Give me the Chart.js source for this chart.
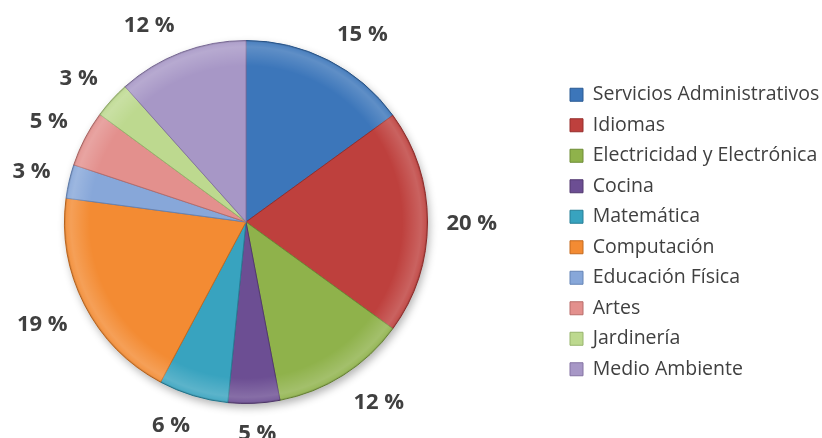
<!DOCTYPE html>
<html>
<head>
<meta charset="utf-8">
<script src="https://cdn.jsdelivr.net/npm/chart.js@4.4.1/dist/chart.umd.min.js"></script>
<style>
  html, body { margin: 0; padding: 0; background: #ffffff; }
  #wrap { width: 822px; height: 438px; position: relative; }
</style>
</head>
<body>
<div id="wrap"><canvas id="chart" width="822" height="438"></canvas></div>
<script>
// ---- data ----
const categories = [
  'Servicios Administrativos',
  'Idiomas',
  'Electricidad y Electrónica',
  'Cocina',
  'Matemática',
  'Computación',
  'Educación Física',
  'Artes',
  'Jardinería',
  'Medio Ambiente'
];
const values = [15, 20, 12, 4.6, 6.2, 19.3, 3.0, 5.0, 3.3, 11.6];
const sliceColors = [
  '#3C76BA', '#BE403D', '#8FB24B', '#6C4E93', '#38A3BF',
  '#F38B33', '#87A7D9', '#E3908D', '#BDD98F', '#A797C6'
];
const sliceBorders = [
  '#2A5A93', '#962E2C', '#6E8C36', '#52386F', '#277F97',
  '#C46A1F', '#6584B6', '#B86C6A', '#97B46C', '#8473A3'
];

// ---- layout constants ----
const LEGEND_WIDTH = 330;      // legend box width (chart area = 822 - 330)
const LEGEND_SHIFT_X = 67;     // move legend block right
const LEGEND_SHIFT_Y = 10;     // move legend block down
const LABEL_GAP = 19;

const total = values.reduce((a, b) => a + b, 0);
const pctLabels = values.map(v => Math.round(v / total * 100) + ' %');

const clamp = v => Math.max(-1, Math.min(1, v));

const layoutTweak = {
  id: 'layoutTweak',
  afterInit(chart) {
    const lg = chart.legend;
    const fit = lg.fit;
    lg.fit = function () { fit.call(this); this.width = LEGEND_WIDTH; };
  },
  afterLayout(chart) {
    const lg = chart.legend;
    lg.left += LEGEND_SHIFT_X; lg.right += LEGEND_SHIFT_X;
    lg.top += LEGEND_SHIFT_Y; lg.bottom += LEGEND_SHIFT_Y;
  }
};

const pieShadow = {
  id: 'pieShadow',
  beforeDatasetsDraw(chart) {
    const arc = chart.getDatasetMeta(0).data[0];
    if (!arc) return;
    const { x, y, outerRadius } = arc.getProps(['x', 'y', 'outerRadius'], true);
    const ctx = chart.ctx;
    ctx.save();
    ctx.shadowColor = 'rgba(0,0,0,0.30)';
    ctx.shadowBlur = 9;
    ctx.shadowOffsetX = 2;
    ctx.shadowOffsetY = 4;
    ctx.fillStyle = '#ffffff';
    ctx.beginPath();
    ctx.arc(x, y, outerRadius, 0, Math.PI * 2);
    ctx.fill();
    ctx.restore();
  },
  afterDatasetsDraw(chart) {
    const meta = chart.getDatasetMeta(0);
    const ctx = chart.ctx;
    const first = meta.data[0];
    const { x, y, outerRadius } = first.getProps(['x', 'y', 'outerRadius'], true);
    // soft bevel on the rim
    ctx.save();
    const g = ctx.createRadialGradient(x, y, outerRadius * 0.86, x, y, outerRadius);
    g.addColorStop(0, 'rgba(255,255,255,0)');
    g.addColorStop(0.75, 'rgba(255,255,255,0.18)');
    g.addColorStop(0.92, 'rgba(255,255,255,0.10)');
    g.addColorStop(1, 'rgba(0,0,0,0.18)');
    ctx.fillStyle = g;
    ctx.beginPath();
    ctx.arc(x, y, outerRadius, 0, Math.PI * 2);
    ctx.fill();
    ctx.restore();

    // percentage labels outside the slices
    ctx.save();
    ctx.font = 'bold 22px "Open Sans"';
    ctx.fillStyle = '#404040';
    ctx.textAlign = 'center';
    ctx.textBaseline = 'middle';
    meta.data.forEach((el, i) => {
      const p = el.getProps(['x', 'y', 'startAngle', 'endAngle', 'outerRadius'], true);
      const mid = (p.startAngle + p.endAngle) / 2;
      const ux = Math.cos(mid), uy = Math.sin(mid);
      const txt = pctLabels[i];
      const w = ctx.measureText(txt).width;
      const h = 20;
      const d = p.outerRadius + LABEL_GAP;
      const cx = p.x + d * ux + (w / 2) * clamp(ux * 3);
      const cy = p.y + d * uy + (h / 2) * clamp(uy * 3) + 1.5;
      ctx.fillText(txt, cx, cy);
    });
    ctx.restore();
  }
};

new Chart(document.getElementById('chart'), {
  type: 'pie',
  data: {
    labels: categories,
    datasets: [{
      data: values,
      backgroundColor: sliceColors,
      borderColor: sliceBorders,
      borderWidth: 1,
      hoverOffset: 0
    }]
  },
  options: {
    responsive: false,
    animation: false,
    devicePixelRatio: 1,
    layout: { padding: { top: 40, bottom: 34, left: 0, right: 0 } },
    plugins: {
      legend: {
        position: 'right',
        align: 'center',
        labels: {
          color: '#404040',
          font: { family: 'Open Sans', size: 19.5 },
          boxWidth: 13,
          boxHeight: 13,
          padding: 11
        }
      },
      tooltip: { enabled: false }
    }
  },
  plugins: [layoutTweak, pieShadow]
});
</script>
</body>
</html>
